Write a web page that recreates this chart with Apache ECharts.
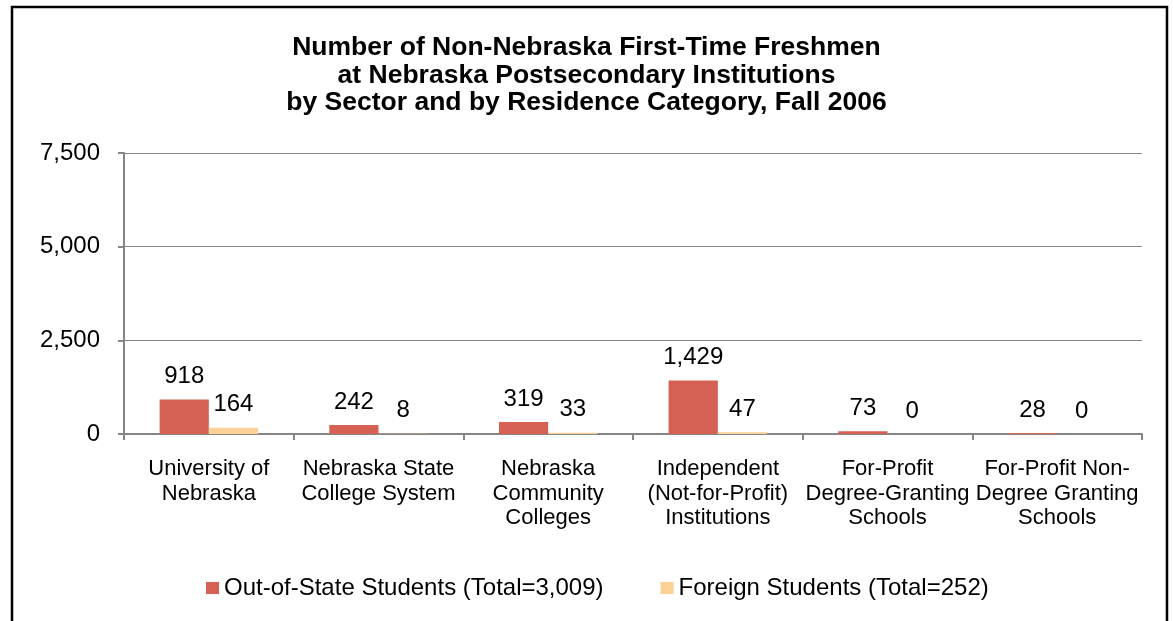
<!DOCTYPE html>
<html>
<head>
<meta charset="utf-8">
<script src="https://cdn.jsdelivr.net/npm/echarts@6/dist/echarts.min.js"></script>
<style>html,body{margin:0;padding:0;background:#fff}#c{width:1173px;height:621px}</style>
</head>
<body>
<div id="c"></div>
<script>
const titleLines = ["Number of Non-Nebraska First-Time Freshmen", "at Nebraska Postsecondary Institutions", "by Sector and by Residence Category, Fall 2006"];
const categories = ["University of\nNebraska", "Nebraska State\nCollege System", "Nebraska\nCommunity\nColleges", "Independent\n(Not-for-Profit)\nInstitutions", "For-Profit\nDegree-Granting\nSchools", "For-Profit Non-\nDegree Granting\nSchools"];
const outOfState = [918, 242, 319, 1429, 73, 28];
const foreign = [164, 8, 33, 47, 0, 0];
const seriesNames = ["Out-of-State Students (Total=3,009)", "Foreign Students (Total=252)"];

const font = "'Liberation Sans', Arial, sans-serif";
const chart = echarts.init(document.getElementById('c'));
const fmt = v => Number(v).toLocaleString('en-US');
chart.setOption({
  animation: false,
  textStyle: {fontFamily: font},
  graphic: [{type: 'rect', shape: {x: 12, y: 7, width: 1155, height: 640}, style: {fill: 'none', stroke: '#000', lineWidth: 2.5}, silent: true}],
  title: {text: titleLines.join('\n'), left: 'center', top: 29, textStyle: {fontFamily: font, fontSize: 26.5, fontWeight: 'bold', color: '#000', lineHeight: 27.5}},
  legend: {left: 201, top: 571, itemWidth: 13, itemHeight: 12, itemGap: 57, icon: 'rect', textStyle: {fontFamily: font, fontSize: 24, color: '#000'}, data: seriesNames},
  grid: {left: 124, right: 31, top: 153, bottom: 187},
  xAxis: {type: 'category', data: categories,
    axisLine: {lineStyle: {color: '#868686', width: 2}},
    axisTick: {show: true, length: 6, lineStyle: {color: '#868686', width: 2}},
    axisLabel: {fontFamily: font, fontSize: 22, color: '#000', lineHeight: 24.5, margin: 23, interval: 0}},
  yAxis: {type: 'value', min: 0, max: 7500, interval: 2500,
    axisLine: {show: true, lineStyle: {color: '#868686', width: 2}},
    axisTick: {show: true, length: 6, lineStyle: {color: '#868686', width: 2}},
    splitLine: {lineStyle: {color: '#868686', width: 1}},
    axisLabel: {fontFamily: font, fontSize: 24, color: '#000', margin: 24, formatter: fmt}},
  series: [
    {name: seriesNames[0], type: 'bar', data: outOfState, barGap: '0%', barCategoryGap: '42%', itemStyle: {color: '#D46153'},
     label: {show: true, position: 'top', distance: 11, fontFamily: font, fontSize: 24, color: '#000', formatter: p => fmt(p.value)}},
    {name: seriesNames[1], type: 'bar', data: foreign, itemStyle: {color: '#FDD096'},
     label: {show: true, position: 'top', distance: 11, fontFamily: font, fontSize: 24, color: '#000', formatter: p => fmt(p.value)}}
  ]
});
</script>
</body>
</html>
